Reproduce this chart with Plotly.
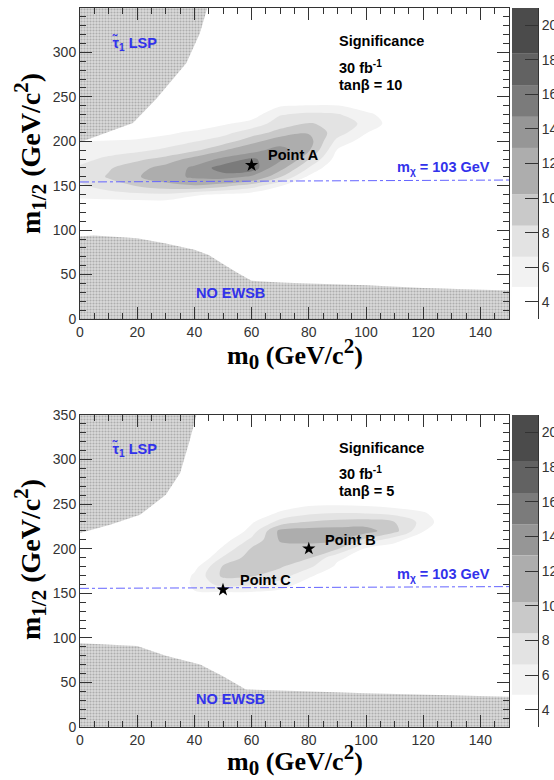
import plotly.graph_objects as go

W, H = 554, 780

# ---------------- data ----------------
x_grid = [0, 10, 20, 30, 40, 50, 60, 70, 80, 90, 100, 110, 120, 130, 140, 150]
y_grid = [110, 120, 130, 140, 150, 160, 170, 180, 190, 200, 210, 220, 230, 240, 250, 260]

# significance, one list per m0 column (values along y_grid) - tan(beta)=10
sig10_cols = [
    [2, 2, 4, 5.5, 6.3, 7.0, 6.9, 6.0, 5.3, 4.9, 3, 2, 2, 2, 2, 2],
    [2, 2, 4, 5.8, 7.5, 8.6, 8.2, 7.0, 5.8, 5.0, 3.5, 2, 2, 2, 2, 2],
    [2, 2, 4, 6.2, 8.5, 10.0, 9.5, 8.0, 6.2, 5.2, 3.8, 2, 2, 2, 2, 2],
    [2, 2, 4, 6.3, 9.5, 11.5, 11.0, 9.0, 7.0, 5.6, 4.5, 2.5, 2, 2, 2, 2],
    [2, 2, 3, 5.2, 10.0, 13.5, 13.5, 11.0, 8.0, 6.5, 5.2, 3.5, 2, 2, 2, 2],
    [2, 2, 2.5, 4.5, 9.0, 14.0, 15.5, 13.5, 10.0, 7.5, 6.0, 4.6, 3, 2, 2, 2],
    [2, 2, 2, 4.0, 7.5, 12.5, 16.0, 15.0, 12.0, 9.5, 7.5, 5.5, 4.0, 2.5, 2, 2],
    [2, 2, 2, 3.0, 5.0, 8.5, 11.0, 13.5, 14.0, 11.5, 9.0, 7.5, 6.5, 4.7, 2, 2],
    [2, 2, 2, 2, 3.0, 4.5, 6.5, 8.5, 10.5, 11.0, 10.0, 8.5, 7.0, 5.0, 2.5, 2],
    [2, 2, 2, 2, 2, 2.5, 3.0, 4.0, 4.7, 6.0, 7.5, 8.0, 6.8, 5.0, 2.5, 2],
    [2, 2, 2, 2, 2, 2, 2, 2.5, 3.0, 4.0, 5.0, 6.0, 5.5, 3.5, 2, 2],
    [2, 2, 2, 2, 2, 2, 2, 2, 2, 2.5, 3.0, 4.0, 3.5, 2, 2, 2],
    [2] * 16,
    [2] * 16,
    [2] * 16,
    [2] * 16,
]

# significance - tan(beta)=5
sig5_cols = [
    [2] * 16,
    [2] * 16,
    [2] * 16,
    [2] * 16,
    [2, 2, 2, 2.5, 4.6, 5.4, 5.2, 4.2, 2.5, 2, 2, 2, 2, 2, 2, 2],
    [2, 2, 2, 2.5, 4.5, 7.2, 8.8, 8.6, 6.8, 5.2, 4.0, 2.5, 2, 2, 2, 2],
    [2, 2, 2, 2.5, 4.5, 6.8, 8.6, 9.4, 9.3, 8.6, 7.0, 5.6, 4.6, 2.5, 2, 2],
    [2, 2, 2, 2.5, 4.2, 5.8, 7.5, 8.6, 9.2, 9.6, 10.4, 10.7, 7.2, 5.3, 3.0, 2],
    [2, 2, 2, 2, 3.0, 4.0, 5.2, 7.0, 8.6, 9.5, 10.7, 11.0, 8.5, 6.2, 4.5, 2],
    [2, 2, 2, 2, 2, 2.5, 3.5, 4.5, 5.2, 8.6, 10.5, 11.0, 9.0, 6.6, 4.6, 2],
    [2, 2, 2, 2, 2, 2, 2.5, 3.0, 4.0, 4.6, 8.0, 11.0, 9.2, 6.5, 4.4, 2],
    [2, 2, 2, 2, 2, 2, 2, 2.5, 3.0, 3.8, 5.5, 9.0, 8.4, 6.0, 4.0, 2],
    [2, 2, 2, 2, 2, 2, 2, 2, 2, 2.5, 3.5, 5.0, 6.0, 5.2, 3.0, 2],
    [2, 2, 2, 2, 2, 2, 2, 2, 2, 2, 2, 2.5, 3.0, 2.5, 2, 2],
    [2] * 16,
    [2] * 16,
]

band_levels = [4.86, 6.6, 8.4, 10.2, 12.9, 14.7, 16.5, 18.35]
band_top = 21
band_bottom = 3
band_colors = ["#f2f2f2", "#e3e3e3", "#c9c9c9", "#adadad", "#969696", "#7b7b7b", "#626262", "#4b4b4b"]

# excluded regions (m0, m1/2)
lsp10_x = [0, 0, 18.5, 26.7, 37.2, 41.9, 44.5]
lsp10_y = [350, 199, 220.6, 248, 288, 321.5, 350]
ewsb10_x = [0, 0, 5, 20, 30, 40, 45, 50, 55, 60, 70, 80, 100, 120, 150, 150]
ewsb10_y = [0, 93, 94, 91, 85, 78, 72, 62, 52, 43, 41, 40, 38, 35, 32, 0]

lsp5_x = [0, 0, 10.5, 21, 30, 35, 38.4, 40.7]
lsp5_y = [350, 217.5, 227, 238, 260.5, 285, 322, 350]
ewsb5_x = [0, 0, 20, 30, 42, 50, 58, 70, 100, 150, 150]
ewsb5_y = [0, 94, 91, 80, 70, 57, 42, 41, 38, 34, 0]

# chi mass line
chi10_x = [0, 150]
chi10_y = [154.2, 156.4]
chi5_x = [0, 150]
chi5_y = [155.5, 157.5]

# benchmark points
ptA = (60, 173)
ptB = (80, 200)
ptC = (50, 154)

# ---------------- figure ----------------
def transpose(cols):
    return [[cols[i][j] for i in range(len(cols))] for j in range(len(cols[0]))]

fig = go.Figure()

def px_x(p):
    return p / W

def px_y(p):
    return 1 - p / H

panels = [
    dict(xa="x", ya="y", cxa="x2", cya="y2", cols=sig10_cols,
         lsp=(lsp10_x, lsp10_y), ewsb=(ewsb10_x, ewsb10_y), chi=(chi10_x, chi10_y),
         pts=[ptA]),
    dict(xa="x3", ya="y3", cxa="x4", cya="y4", cols=sig5_cols,
         lsp=(lsp5_x, lsp5_y), ewsb=(ewsb5_x, ewsb5_y), chi=(chi5_x, chi5_y),
         pts=[ptB, ptC]),
]

pattern = dict(shape=".", size=3, solidity=0.4, fgcolor="#808080", bgcolor="#dadada")

for p in panels:
    z = transpose(p["cols"])
    for lev, col in zip(band_levels, band_colors):
        fig.add_trace(go.Contour(
            x=x_grid, y=y_grid, z=z,
            contours=dict(type="constraint", operation="<", value=lev),
            fillcolor=col, line=dict(width=0, smoothing=1.0),
            showscale=False, hoverinfo="skip", xaxis=p["xa"], yaxis=p["ya"]))
    for (hx, hy) in (p["lsp"], p["ewsb"]):
        fig.add_trace(go.Scatter(x=hx, y=hy, mode="none", fill="toself",
                                 fillcolor="#dadada", fillpattern=pattern,
                                 hoverinfo="skip", xaxis=p["xa"], yaxis=p["ya"]))
    fig.add_trace(go.Scatter(x=p["chi"][0], y=p["chi"][1], mode="lines",
                             line=dict(color="rgb(100,100,255)", width=1, dash="dashdot"),
                             hoverinfo="skip", xaxis=p["xa"], yaxis=p["ya"]))
    fig.add_trace(go.Scatter(x=[q[0] for q in p["pts"]], y=[q[1] for q in p["pts"]],
                             mode="markers", marker=dict(symbol="star", size=10, color="black"),
                             hoverinfo="skip", xaxis=p["xa"], yaxis=p["ya"]))
    # colour scale drawn as stacked bars
    fig.add_trace(go.Bar(x=[0] * len(band_levels),
                         y=[b - a for a, b in zip(band_levels, band_levels[1:] + [band_top])],
                         base=band_levels, width=1,
                         marker=dict(color=band_colors, line=dict(width=0)),
                         hoverinfo="skip", xaxis=p["cxa"], yaxis=p["cya"]))

tickfont = dict(family="Arial, Liberation Sans, sans-serif", size=14, color="#333333")
axcol = "#333333"

def main_x(dom, anchor):
    return dict(domain=dom, anchor=anchor, range=[0, 150], tick0=0, dtick=20,
                ticks="inside", ticklen=12, tickcolor=axcol, showline=True, linecolor=axcol,
                linewidth=1, mirror="ticks", showgrid=False, zeroline=False, tickfont=tickfont,
                minor=dict(dtick=5, ticklen=6, ticks="inside", tickcolor=axcol, showgrid=False))

def main_y(dom, anchor):
    return dict(domain=dom, anchor=anchor, range=[0, 350], tick0=0, dtick=50,
                ticks="inside", ticklen=12, tickcolor=axcol, showline=True, linecolor=axcol,
                linewidth=1, mirror="ticks", showgrid=False, zeroline=False, tickfont=tickfont,
                minor=dict(dtick=10, ticklen=6, ticks="inside", tickcolor=axcol, showgrid=False))

def cb_x(dom, anchor):
    return dict(domain=dom, anchor=anchor, range=[-0.5, 0.5], visible=False)

def cb_y(dom, anchor):
    return dict(domain=dom, anchor=anchor, range=[band_bottom, band_top], tick0=0, dtick=2,
                side="right", ticks="inside", ticklen=13, tickcolor=axcol, showline=True,
                linecolor=axcol, linewidth=1, showgrid=False, zeroline=False, tickfont=tickfont)

xd = [px_x(80), px_x(509)]
cxd = [px_x(512), px_x(538)]
yd_top = [px_y(319), px_y(8)]
yd_bot = [px_y(727), px_y(415)]

fig.update_layout(
    width=W, height=H, margin=dict(l=0, r=0, t=0, b=0, autoexpand=False),
    paper_bgcolor="white", plot_bgcolor="white", showlegend=False, barmode="overlay",
    xaxis=main_x(xd, "y"), yaxis=main_y(yd_top, "x"),
    xaxis2=cb_x(cxd, "y2"), yaxis2=cb_y(yd_top, "x2"),
    xaxis3=main_x(xd, "y3"), yaxis3=main_y(yd_bot, "x3"),
    xaxis4=cb_x(cxd, "y4"), yaxis4=cb_y(yd_bot, "x4"),
)

bold = "Arial, Liberation Sans, sans-serif"
serif = "Times New Roman, Liberation Serif, serif"
blue = "rgb(50,50,235)"
ann = []

def txt(text, x, y, xr, yr, color="black", size=14.5, xanchor="left"):
    ann.append(dict(text="<b>" + text + "</b>", x=x, y=y, xref=xr, yref=yr, showarrow=False,
                    xanchor=xanchor, yanchor="middle", font=dict(family=bold, size=size, color=color)))

# top panel texts
txt("Significance", 90, 312.8, "x", "y")
txt("30 fb<sup>-1</sup>", 90, 283.6, "x", "y")
txt("tanβ = 10", 90, 263.3, "x", "y")
txt("τ̃<sub>1</sub> LSP", 10.5, 310.6, "x", "y", color=blue)
txt("m<sub>χ</sub> = 103 GeV", 110, 170, "x", "y", color=blue)
txt("NO EWSB", 40, 29, "x", "y", color=blue)
txt("Point A", 65.2, 184.6, "x", "y")
# bottom panel texts
txt("Significance", 90, 313.3, "x3", "y3")
txt("30 fb<sup>-1</sup>", 90, 285.2, "x3", "y3")
txt("tanβ = 5", 90, 264.2, "x3", "y3")
txt("τ̃<sub>1</sub> LSP", 10.5, 311, "x3", "y3", color=blue)
txt("m<sub>χ</sub> = 103 GeV", 110, 170.7, "x3", "y3", color=blue)
txt("NO EWSB", 40, 31.4, "x3", "y3", color=blue)
txt("Point B", 84.8, 210, "x3", "y3")
txt("Point C", 55.1, 165, "x3", "y3")

# axis titles
ytitle = ("<b>m<sub><span style='font-size:21px'>1/2</span></sub> "
          "(GeV/c<sup><span style='font-size:21px'>2</span></sup>)</b>")
xtitle = ("<b>m<sub><span style='font-size:21px'>0</span></sub> "
          "(GeV/c<sup><span style='font-size:21px'>2</span></sup>)</b>")
for ytitle_c, xtitle_c in ((154, 354), (560, 760)):
    ann.append(dict(text=ytitle, x=px_x(30), y=px_y(ytitle_c),
                    xref="paper", yref="paper", showarrow=False, textangle=-90,
                    xanchor="center", yanchor="middle", font=dict(family=serif, size=28, color="black")))
    ann.append(dict(text=xtitle, x=px_x(295), y=px_y(xtitle_c),
                    xref="paper", yref="paper", showarrow=False,
                    xanchor="center", yanchor="middle", font=dict(family=serif, size=26, color="black")))

fig.update_layout(annotations=ann)
fig.write_html("out.html", config={"displayModeBar": False},
               post_script="document.body.style.margin='0';document.body.style.overflow='hidden';")
